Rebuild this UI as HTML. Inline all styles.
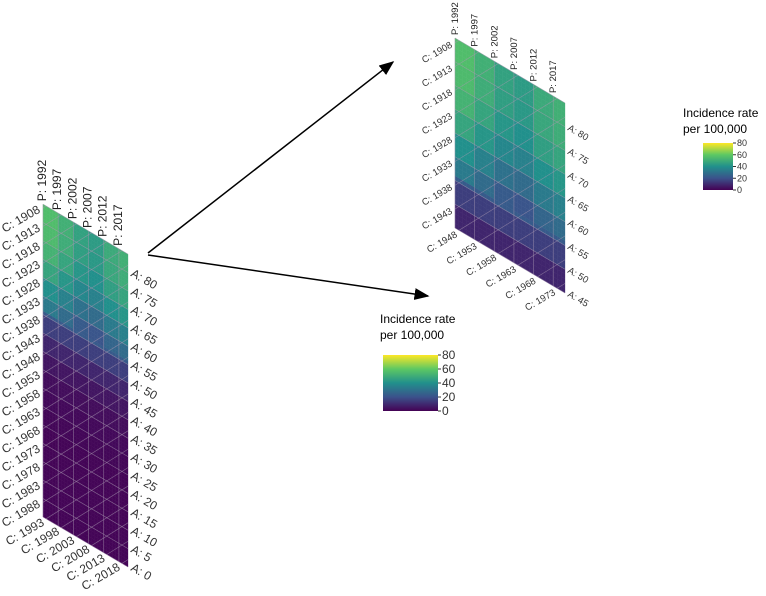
<!DOCTYPE html>
<html><head><meta charset="utf-8"><style>
body{margin:0;background:#fff;}
svg{display:block;font-family:"Liberation Sans",sans-serif;}
</style></head><body>
<svg id="c" width="766" height="596" viewBox="0 0 766 596">
<defs>
<marker id="ah" markerWidth="10" markerHeight="8" refX="9" refY="4" orient="auto"><path d="M0,0 L10,4 L0,8 z" fill="#000"/></marker>
<linearGradient id="vg" x1="0" y1="1" x2="0" y2="0">
<stop offset="0" stop-color="#440154"/><stop offset="0.25" stop-color="#3b528b"/><stop offset="0.5" stop-color="#21908c"/><stop offset="0.75" stop-color="#5dc863"/><stop offset="1" stop-color="#fde725"/></linearGradient>
</defs>
<g id="left"></g>
<g id="right"></g>
<line x1="148" y1="253" x2="393" y2="62" stroke="#000" stroke-width="1.5" marker-end="url(#ah)"/>
<line x1="148" y1="255" x2="428" y2="296" stroke="#000" stroke-width="1.5" marker-end="url(#ah)"/>
<g>
<text x="380" y="323" font-size="12">Incidence rate</text>
<text x="380" y="339" font-size="12">per 100,000</text>
<rect x="383" y="355" width="55" height="56" fill="url(#vg)"/>
<g id="lt" font-size="12" fill="#333"></g>
</g>
<g>
<text x="683" y="117" font-size="12">Incidence rate</text>
<text x="683" y="133" font-size="12">per 100,000</text>
<rect x="703" y="143" width="30" height="47" fill="url(#vg)"/>
<g id="rt" font-size="9" fill="#333"></g>
</g>
</svg>
<script>
const ageGroups=[0,5,10,15,20,25,30,35,40,45,50,55,60,65,70,75,80,85];
const ageRates=[1,1,1,1,1,1.5,2,3,5,9,15,23,30,37,42,45,46,48];
const periodBlocks=[1992,1997,2002,2007,2012,2017];
const periodShift=[10,5,0,-2,3,5];
const legendTicks=[0,20,40,60,80];
const NS="http://www.w3.org/2000/svg";
const stops=[[68,1,84],[59,82,139],[33,144,140],[93,200,99],[253,231,37]];
function vir(v){let t=Math.max(0,Math.min(1,v/80))*4;let i=Math.min(3,Math.floor(t));let f=t-i;
const a=stops[i],b=stops[i+1];return `rgb(${a.map((x,k)=>Math.round(x+(b[k]-x)*f)).join(',')})`;}
function rateAt(p,a){let gi=Math.min(ageGroups.length-1,Math.floor(a/5));let pi=Math.min(periodBlocks.length-1,Math.floor((p-1992)/5));
return ageRates[gi]+(a>55?periodShift[pi]:0);}
function mk(tag,attrs,parent){const e=document.createElementNS(NS,tag);for(const k in attrs)e.setAttribute(k,attrs[k]);parent.appendChild(e);return e;}
function panel(g,x0,w,yb,ay,aMin,aMax,fs,drop){
 const pw=w/28, slope=drop/28;
 const X=p=>x0+(p-1992)*pw, Y=(p,a)=>yb+(p-1992)*slope-(a-aMin)*ay;
 for(let p=1992;p<2020;p++)for(let a=aMin;a<aMax;a++){
  const pts=[[X(p),Y(p,a)],[X(p+1),Y(p+1,a)],[X(p+1),Y(p+1,a+1)],[X(p),Y(p,a+1)]];
  const el=mk('polygon',{points:pts.map(q=>q.join(',')).join(' '),fill:vir(rateAt(p,a)),stroke:vir(rateAt(p,a)),'stroke-width':0.3},g);
  
  
 }
 const st={stroke:'#a898b0','stroke-width':0.7,'stroke-opacity':0.6};
 for(let p=1992;p<=2020;p+=5){const l=mk('line',Object.assign({x1:X(p),y1:Y(p,aMin),x2:X(p),y2:Y(p,aMax)},st),g);
  }
 for(let a=aMin;a<=aMax;a+=5){const l=mk('line',Object.assign({x1:X(1992),y1:Y(1992,a),x2:X(2020),y2:Y(2020,a)},st),g);
  }
 for(let c=1908;c<=2018;c+=5){let p1=Math.max(1992,c+aMin),p2=Math.min(2020,c+aMax);if(p1>=p2)continue;
  const l=mk('line',Object.assign({x1:X(p1),y1:Y(p1,p1-c),x2:X(p2),y2:Y(p2,p2-c)},st),g);
  }
 for(let p=1992;p<=2017;p+=5){const x=X(p)+3,y=Y(p,aMax)-3;
  const t=mk('text',{x:x,y:y,'font-size':fs,fill:'#222',transform:`rotate(-90 ${x} ${y})`},g);t.textContent='P: '+p;
  }
 for(let a=aMin;a<aMax-3;a+=5){const x=X(2020)+2,y=Y(2020,a)+3;
  const t=mk('text',{x:x,y:y,'font-size':fs,fill:'#333',transform:`rotate(30 ${x} ${y})`},g);t.textContent='A: '+a;
  }
 for(let c=1908;c<=2018;c+=5){let x,y;
  if(1992-c>=aMin){x=X(1992)-2;y=Y(1992,1992-c)+4;}else{let p=c+aMin;if(p>2019)continue;x=X(p)-1;y=Y(p,aMin)+6;}
  const t=mk('text',{x:x,y:y,'font-size':fs,fill:'#333','text-anchor':'end',transform:`rotate(-30 ${x} ${y})`},g);t.textContent='C: '+c;
  }
}
panel(document.getElementById('left'),43,85,517,3.68,0,85,12,50);
panel(document.getElementById('right'),455,110,228,4.75,45,85,9.5,65);
function ticks(id,x,y0,h,fs){const g=document.getElementById(id);
 legendTicks.forEach(v=>{const y=y0+h-v/80*h;
  const l=mk('line',{x1:x,y1:y,x2:x+3,y2:y,stroke:'#333'},g);
  const t=mk('text',{x:x+4,y:y+fs/3},g);t.textContent=v;});}
ticks('lt',438,355,56,12);ticks('rt',733,143,47,9);
</script>
</body></html>
